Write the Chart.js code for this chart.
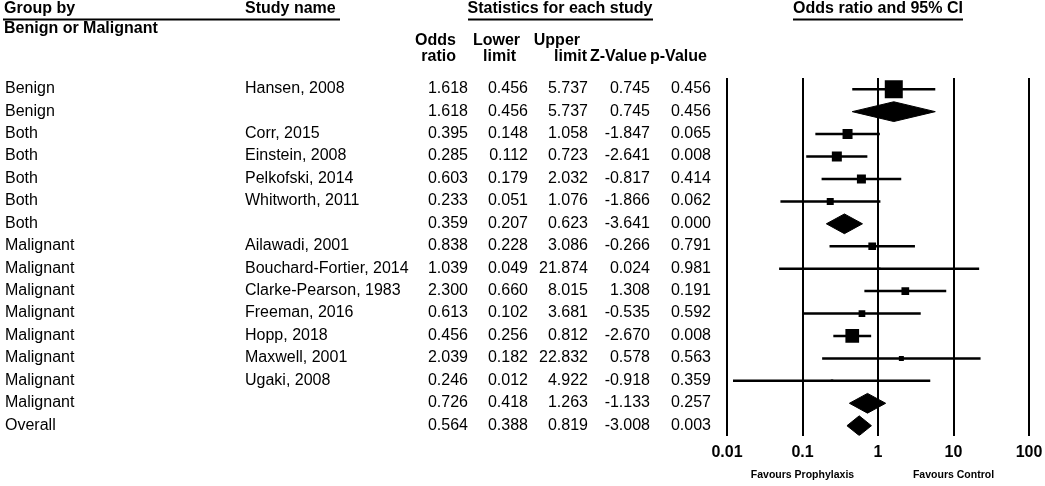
<!DOCTYPE html>
<html>
<head>
<meta charset="utf-8">
<title>Forest plot</title>
<script src="https://cdn.jsdelivr.net/npm/chart.js@4.4.0/dist/chart.umd.min.js"></script>
<style>
  html, body { margin: 0; padding: 0; background: #fff; }
  #wrap { position: relative; width: 1045px; height: 486px; }
</style>
</head>
<body>
<div id="wrap"><canvas id="forestChart"></canvas></div>
<script>
// table rows, top to bottom
var groups = ['Benign', 'Benign', 'Both', 'Both', 'Both', 'Both', 'Both', 'Malignant', 'Malignant', 'Malignant',
  'Malignant', 'Malignant', 'Malignant', 'Malignant', 'Malignant', 'Overall'];
var studies = ['Hansen, 2008', '', 'Corr, 2015', 'Einstein, 2008', 'Pelkofski, 2014', 'Whitworth, 2011', '',
  'Ailawadi, 2001', 'Bouchard-Fortier, 2014', 'Clarke-Pearson, 1983', 'Freeman, 2016', 'Hopp, 2018',
  'Maxwell, 2001', 'Ugaki, 2008', '', ''];
var oddsRatios = [1.618, 1.618, 0.395, 0.285, 0.603, 0.233, 0.359, 0.838, 1.039, 2.300, 0.613, 0.456, 2.039, 0.246, 0.726, 0.564];
var lowerLimits = [0.456, 0.456, 0.148, 0.112, 0.179, 0.051, 0.207, 0.228, 0.049, 0.660, 0.102, 0.256, 0.182, 0.012, 0.418, 0.388];
var upperLimits = [5.737, 5.737, 1.058, 0.723, 2.032, 1.076, 0.623, 3.086, 21.874, 8.015, 3.681, 0.812, 22.832, 4.922, 1.263, 0.819];
var zValues = [0.745, 0.745, -1.847, -2.641, -0.817, -1.866, -3.641, -0.266, 0.024, 1.308, -0.535, -2.670, 0.578, -0.918, -1.133, -3.008];
var pValues = [0.456, 0.456, 0.065, 0.008, 0.414, 0.062, 0.000, 0.791, 0.981, 0.191, 0.592, 0.008, 0.563, 0.359, 0.257, 0.003];
var isSummary = [false, true, false, false, false, false, true, false, false, false, false, false, false, false, true, true];
// relative study weight (null for pooled rows)
var studyWeights = [18, null, 10, 10, 9, 7, null, 7.7, 2.5, 7.7, 6.7, 13.7, 5, 2.5, null, null];
var xTicks = [0.01, 0.1, 1, 10, 100];
var favourLabels = ['Favours Prophylaxis', 'Favours Control'];
var favourAt = [0.1, 10];

var FONT = '"Liberation Sans", Arial, Helvetica, sans-serif';
var DIAMOND_HALF = 0.44;   // diamond half height, in rows
var BOX_PX = 1;            // box side in px per weight unit

Chart.defaults.font.family = FONT;

var squarePts = [], squareRadius = [], ciPts = [];
oddsRatios.forEach(function (or, i) {
  if (isSummary[i]) return;
  squarePts.push({ x: or, y: i });
  squareRadius.push(studyWeights[i] * BOX_PX / (2 * Math.SQRT1_2));
  ciPts.push({ x: lowerLimits[i], y: i }, { x: upperLimits[i], y: i }, { x: null, y: null });
});

var datasets = [
  { type: 'scatter', data: squarePts, pointStyle: 'rect', pointRadius: squareRadius,
    backgroundColor: '#000', borderWidth: 0, order: 0 },
  { type: 'line', data: ciPts, borderColor: '#000', borderWidth: 2.5, pointRadius: 0,
    spanGaps: false, fill: false, tension: 0, order: 1 }
];
oddsRatios.forEach(function (or, i) {
  if (!isSummary[i]) return;
  datasets.push({
    type: 'line',
    data: [
      { x: lowerLimits[i], y: i },
      { x: or, y: i - DIAMOND_HALF },
      { x: upperLimits[i], y: i },
      { x: or, y: i + DIAMOND_HALF },
      { x: lowerLimits[i], y: i }
    ],
    borderColor: '#000', backgroundColor: '#000', borderWidth: 1, pointRadius: 0,
    fill: 'shape', tension: 0, order: 2
  });
});

var tableText = {
  id: 'tableText',
  afterDraw: function (chart) {
    var ctx = chart.ctx, ys = chart.scales.y, xs = chart.scales.x;
    ctx.save();
    ctx.fillStyle = '#000';
    ctx.textBaseline = 'middle';

    // headings
    ctx.font = 'bold 16px ' + FONT;
    ctx.textAlign = 'left';
    ctx.fillText('Group by', 4, 9);
    ctx.fillText('Study name', 245, 9);
    ctx.fillText('Benign or Malignant', 4, 29);
    ctx.fillRect(3, 18.5, 337, 2);

    ctx.textAlign = 'center';
    ctx.fillText('Statistics for each study', 560, 9);
    ctx.fillRect(468, 18.5, 185, 2);
    var midX = xs.getPixelForValue(1);
    ctx.fillText('Odds ratio and 95% CI', midX, 9);
    ctx.fillRect(midX - 85, 18.5, 170, 2);

    ctx.textAlign = 'right';
    ctx.fillText('Odds', 456, 41);
    ctx.fillText('ratio', 456, 57);
    ctx.fillText('Lower', 520, 41);
    ctx.fillText('limit', 516, 57);
    ctx.fillText('Upper', 580, 41);
    ctx.fillText('limit', 587, 57);
    ctx.textAlign = 'left';
    ctx.fillText('Z-Value', 590, 57);
    ctx.fillText('p-Value', 650, 57);

    // rows
    ctx.font = '16px ' + FONT;
    var colRight = [468, 528, 588, 650, 711];
    groups.forEach(function (g, i) {
      var y = ys.getPixelForValue(i) - 0.5;
      ctx.textAlign = 'left';
      ctx.fillText(g, 5, y);
      ctx.fillText(studies[i], 245, y);
      ctx.textAlign = 'right';
      [oddsRatios[i], lowerLimits[i], upperLimits[i], zValues[i], pValues[i]].forEach(function (v, c) {
        ctx.fillText(v.toFixed(3), colRight[c], y);
      });
    });

    // favours labels
    ctx.font = 'bold 10.5px ' + FONT;
    ctx.textAlign = 'center';
    favourLabels.forEach(function (t, k) {
      ctx.fillText(t, xs.getPixelForValue(favourAt[k]), 475);
    });
    ctx.restore();
  }
};

new Chart(document.getElementById('forestChart').getContext('2d'), {
  type: 'scatter',
  data: { datasets: datasets },
  options: {
    responsive: true,
    maintainAspectRatio: false,
    animation: false,
    events: [],
    layout: { padding: { left: 727, right: 16, top: 78, bottom: 17 } },
    plugins: { legend: { display: false }, tooltip: { enabled: false } },
    scales: {
      x: {
        type: 'logarithmic',
        min: 0.01,
        max: 100,
        afterBuildTicks: function (axis) {
          axis.ticks = xTicks.map(function (v) { return { value: v }; });
        },
        afterFit: function (axis) {
          axis.paddingLeft = 0;
          axis.paddingRight = 0;
        },
        grid: { color: '#000', lineWidth: 2, drawTicks: false },
        border: { display: false },
        ticks: {
          padding: 7,
          color: '#000',
          font: { size: 16, weight: 'bold' },
          maxRotation: 0,
          autoSkip: false,
          callback: function (v) { return String(v); }
        }
      },
      y: {
        type: 'linear',
        display: false,
        reverse: true,
        min: -0.5,
        max: 15.45
      }
    }
  },
  plugins: [tableText]
});
</script>
</body>
</html>
